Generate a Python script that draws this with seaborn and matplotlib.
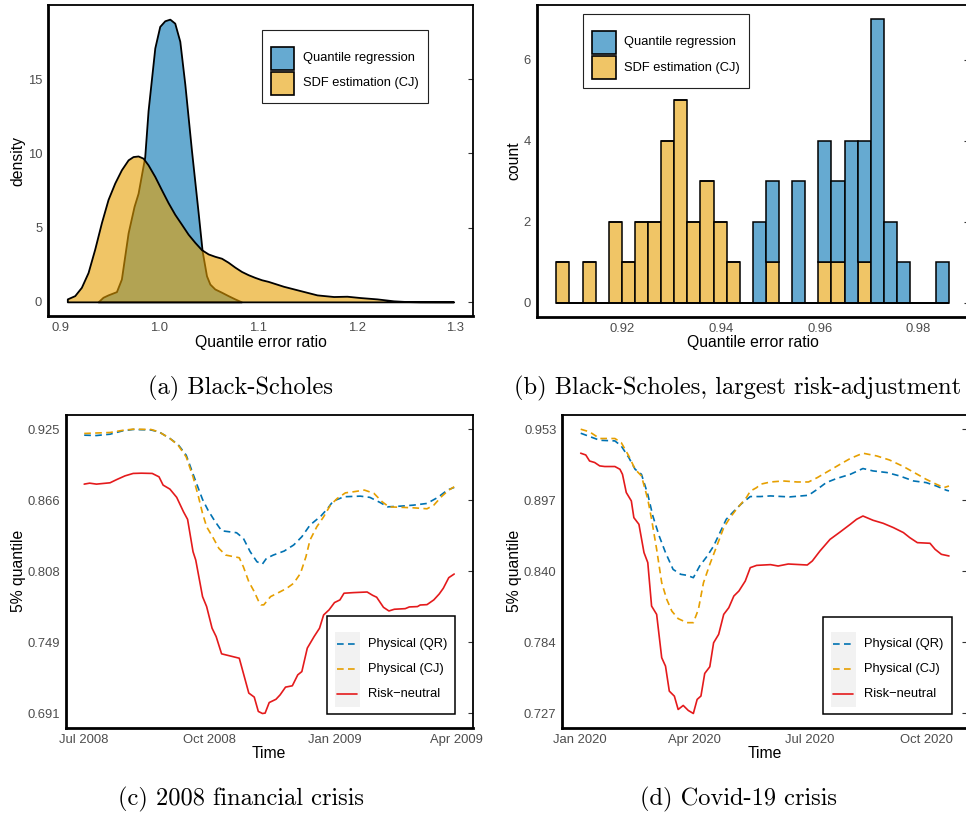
import numpy as np
import pandas as pd
import matplotlib
matplotlib.use("Agg")
import matplotlib.pyplot as plt
import matplotlib.dates as mdates
from matplotlib.patches import Rectangle
from matplotlib.lines import Line2D
import seaborn as sns

# ------------------------------------------------------------------ data
QR_NAME = "Quantile regression"
CJ_NAME = "SDF estimation (CJ)"

# (a) density curves
qr_dens_x = [0.9385, 0.9435, 0.9486, 0.9571, 0.9621, 0.9689, 0.9749, 0.9790, 0.9857, 0.9891,
             0.9959, 1.0009, 1.0060, 1.0111, 1.0161, 1.0212, 1.0263, 1.0330, 1.0398, 1.0438,
             1.0482, 1.0516, 1.0566, 1.0634, 1.0701, 1.0769, 1.0836]
qr_dens_y = [0.0, 0.31, 0.47, 0.69, 1.54, 4.65, 6.43, 7.32, 9.77, 12.89,
             17.11, 18.56, 18.94, 19.05, 18.78, 17.56, 14.66, 10.21, 5.99, 3.43,
             1.76, 1.20, 0.87, 0.65, 0.42, 0.20, 0.0]
cj_dens_x = [0.9074, 0.9149, 0.9216, 0.9284, 0.9351, 0.9419, 0.9486, 0.9554, 0.9621, 0.9689,
             0.9739, 0.9790, 0.9841, 0.9891, 0.9959, 1.0026, 1.0094, 1.0161, 1.0229, 1.0296,
             1.0364, 1.0431, 1.0499, 1.0566, 1.0634, 1.0701, 1.0769, 1.0836, 1.0904, 1.0971,
             1.1039, 1.1106, 1.1261, 1.1430, 1.1600, 1.1768, 1.1903, 1.2038, 1.2207, 1.2375,
             1.2511, 1.2646, 1.2848, 1.2983]
cj_dens_y = [0.20, 0.42, 0.98, 1.98, 3.55, 5.34, 6.90, 8.01, 8.90, 9.57,
             9.79, 9.83, 9.68, 9.23, 8.45, 7.56, 6.68, 5.90, 5.23, 4.56,
             4.01, 3.52, 3.23, 3.07, 2.94, 2.67, 2.34, 2.05, 1.83, 1.65,
             1.49, 1.38, 1.05, 0.76, 0.47, 0.36, 0.38, 0.29, 0.20, 0.07,
             0.02, 0.005, 0.002, 0.0]

# (b) histogram: 30 bins between these edges, counts per bin
hist_lo, hist_hi, hist_bins = 0.90662, 0.98622, 30
qr_counts = [0, 0, 0, 0, 0, 0, 0, 0, 0, 0, 0, 0, 0, 0, 0,
             2, 2, 0, 3, 0, 3, 2, 4, 3, 7, 2, 1, 0, 0, 1]
cj_counts = [1, 0, 1, 0, 2, 1, 2, 2, 4, 5, 2, 3, 2, 1, 0,
             0, 1, 0, 0, 0, 1, 1, 0, 1, 0, 0, 0, 0, 0, 0]

# (c) 2008 financial crisis (days after 2008-07-01)
start_08 = "2008-07-01"
rn08_days = [0, 4, 9, 19, 24, 30, 36, 42, 50, 55, 58, 63, 68, 73, 76, 80, 82, 87, 90, 94,
             97, 101, 114, 117, 121, 125, 128, 131, 133, 136, 141, 144, 148, 153, 157, 160, 164, 169, 173, 176,
             180, 184, 188, 191, 198, 208, 212, 215, 220, 224, 228, 236, 239, 245, 247, 252, 257, 261, 264, 268, 272]
rn08 = [0.8795, 0.8803, 0.8795, 0.8806, 0.8833, 0.8863, 0.8883, 0.8885, 0.8883, 0.8855,
        0.8787, 0.8754, 0.8686, 0.8567, 0.8505, 0.8239, 0.8170, 0.7869, 0.7787, 0.7609,
        0.7540, 0.7398, 0.7362, 0.7239, 0.7075, 0.7042, 0.6924, 0.6907, 0.6910, 0.6997,
        0.7024, 0.7060, 0.7124, 0.7135, 0.7225, 0.7252, 0.7445, 0.7540, 0.7609, 0.7718,
        0.7760, 0.7820, 0.7842, 0.7897, 0.7902, 0.7907, 0.7880, 0.7864, 0.7781, 0.7751,
        0.7765, 0.7770, 0.7784, 0.7787, 0.7800, 0.7803, 0.7842, 0.7891, 0.7938, 0.8025, 0.8055]
qr08_days = [0, 9, 19, 28, 36, 49, 55, 63, 69, 75, 79, 83, 87, 91, 96, 101, 112, 117, 122, 127,
             131, 134, 139, 147, 154, 160, 166, 174, 179, 183, 191, 203, 210, 218, 223, 233, 242, 252, 260, 267, 272]
qr08 = [0.9198, 0.9195, 0.9206, 0.9233, 0.9245, 0.9241, 0.9225, 0.9171, 0.9121, 0.9033,
        0.8910, 0.8787, 0.8669, 0.8581, 0.8491, 0.8411, 0.8395, 0.8349, 0.8239, 0.8156,
        0.8137, 0.8184, 0.8211, 0.8244, 0.8294, 0.8362, 0.8458, 0.8532, 0.8595, 0.8655,
        0.8691, 0.8696, 0.8686, 0.8641, 0.8608, 0.8614, 0.8622, 0.8636, 0.8686, 0.8746, 0.8768]
cj08_days = [0, 19, 29, 36, 49, 55, 63, 69, 75, 80, 84, 87, 90, 95, 99, 104, 114, 117, 121, 125,
             128, 130, 132, 137, 142, 149, 154, 159, 163, 166, 171, 176, 181, 186, 192, 198, 206, 213, 219, 224,
             233, 242, 252, 257, 263, 268, 272]
cj08 = [0.9212, 0.9220, 0.9239, 0.9247, 0.9245, 0.9225, 0.9171, 0.9116, 0.9019, 0.8855,
        0.8691, 0.8554, 0.8444, 0.8349, 0.8266, 0.8211, 0.8189, 0.8115, 0.7992, 0.7910,
        0.7836, 0.7801, 0.7801, 0.7869, 0.7897, 0.7938, 0.7979, 0.8061, 0.8197, 0.8335,
        0.8444, 0.8526, 0.8622, 0.8677, 0.8723, 0.8732, 0.8746, 0.8719, 0.8650, 0.8608,
        0.8604, 0.8600, 0.8592, 0.8622, 0.8696, 0.8746, 0.8773]

# (d) Covid-19 crisis (days after 2020-01-01)
start_20 = "2020-01-01"
rn20_days = [1, 5, 8, 12, 16, 20, 28, 32, 34, 37, 41, 43, 47, 51, 54, 57, 61, 65, 68, 71,
             75, 78, 82, 86, 90, 93, 96, 99, 103, 106, 110, 114, 118, 122, 126, 131, 135, 140, 151, 157,
             165, 180, 184, 190, 198, 206, 214, 219, 224, 232, 240, 248, 256, 261, 267, 277, 281, 286, 292]
rn20 = [0.9342, 0.9328, 0.9280, 0.9268, 0.9241, 0.9236, 0.9236, 0.9214, 0.9174, 0.9029,
        0.8962, 0.8829, 0.8776, 0.8551, 0.8471, 0.8125, 0.8059, 0.7714, 0.7647, 0.7448,
        0.7408, 0.7302, 0.7334, 0.7294, 0.7270, 0.7382, 0.7409, 0.7589, 0.7642, 0.7833,
        0.7900, 0.8059, 0.8112, 0.8205, 0.8245, 0.8324, 0.8431, 0.8449, 0.8455, 0.8444,
        0.8460, 0.8452, 0.8484, 0.8563, 0.8656, 0.8715, 0.8776, 0.8816, 0.8842, 0.8808,
        0.8784, 0.8750, 0.8710, 0.8670, 0.8630, 0.8625, 0.8577, 0.8537, 0.8524]
qr20_days = [1, 8, 16, 28, 33, 39, 44, 49, 54, 58, 63, 68, 74, 80, 85, 90, 95, 101, 106, 111,
             116, 122, 128, 135, 143, 151, 166, 181, 188, 195, 203, 214, 224, 232, 243, 253, 264, 274, 282, 290, 292]
qr20 = [0.9501, 0.9475, 0.9445, 0.9440, 0.9400, 0.9307, 0.9214, 0.9174, 0.9015, 0.8842,
        0.8683, 0.8551, 0.8417, 0.8378, 0.8370, 0.8351, 0.8444, 0.8524, 0.8603, 0.8710,
        0.8816, 0.8880, 0.8940, 0.8997, 0.8997, 0.9002, 0.8994, 0.9007, 0.9055, 0.9108,
        0.9140, 0.9174, 0.9220, 0.9201, 0.9188, 0.9161, 0.9121, 0.9108, 0.9081, 0.9047, 0.9042]
cj20_days = [1, 8, 16, 28, 33, 39, 44, 49, 54, 57, 61, 65, 69, 73, 78, 85, 90, 94, 98, 103,
             109, 114, 119, 124, 132, 135, 140, 143, 151, 161, 172, 181, 188, 197, 206, 214, 224, 235, 245, 256,
             267, 274, 282, 288, 292]
cj20 = [0.9533, 0.9512, 0.9459, 0.9459, 0.9427, 0.9320, 0.9214, 0.9161, 0.8975, 0.8816,
        0.8577, 0.8311, 0.8178, 0.8085, 0.8025, 0.7993, 0.7993, 0.8099, 0.8311, 0.8457,
        0.8616, 0.8749, 0.8829, 0.8895, 0.8990, 0.9040, 0.9068, 0.9095, 0.9113, 0.9121,
        0.9113, 0.9113, 0.9148, 0.9201, 0.9254, 0.9300, 0.9342, 0.9320, 0.9288, 0.9236,
        0.9174, 0.9134, 0.9095, 0.9068, 0.9081]

series_labels = ["Physical (QR)", "Physical (CJ)", "Risk\u2212neutral"]
captions = ["(a) Black-Scholes", "(b) Black-Scholes, largest risk-adjustment",
            "(c) 2008 financial crisis", "(d) Covid-19 crisis"]

# ------------------------------------------------------------------ style
sns.set_style("white")
plt.rcParams["font.family"] = ["Liberation Sans", "DejaVu Sans"]

W, H = 966, 815
fig = plt.figure(figsize=(W / 100, H / 100), dpi=100)

QR_FILL = "#66AAD1"
CJ_FILL = "#F0C566"
QR_LINE = "#0072B2"
CJ_LINE = "#E69F00"
RN_LINE = "#E41A1C"
TICK_C = "#333333"
LAB_C = "#4D4D4D"
DASH = (0, (4, 2.6))


def px_axes(box):
    l, t, r, b = box
    return fig.add_axes([l / W, 1 - b / H, (r - l) / W, (b - t) / H])


def style(ax, yticks, ylabels):
    for s in ("left", "bottom"):
        ax.spines[s].set_linewidth(2.0)
    for s in ("top", "right"):
        ax.spines[s].set_linewidth(1.3)
    for sp in ax.spines.values():
        sp.set_visible(True)
        sp.set_color("black")
    ax.tick_params(axis="both", which="major", direction="out", length=3.2, width=0.8,
                   color=TICK_C, labelsize=9.4, labelcolor=LAB_C, pad=1.0,
                   top=False, right=False)
    ax.set_yticks(yticks)
    ax.set_yticklabels(ylabels)
    sec = ax.secondary_yaxis("right")
    sec.set_yticks(yticks)
    sec.tick_params(direction="in", length=3.6, width=0.8, color=TICK_C, labelright=False)
    sec.spines["right"].set_visible(False)
    ax.grid(False)


def labels(ax, box, xlabel, ylabel, xlab_py, ylab_px):
    l, t, r, b = box
    ax.set_xlabel(xlabel, fontsize=11.3, color="black", va="center", ha="center")
    ax.xaxis.set_label_coords(0.5, (b - xlab_py) / (b - t))
    ax.set_ylabel(ylabel, fontsize=11.3, color="black", va="center", ha="center")
    ax.yaxis.set_label_coords((ylab_px - l) / (r - l), 0.5)


def fig_rect(l, t, r, b, **kw):
    fig.add_artist(Rectangle((l / W, 1 - b / H), (r - l) / W, (b - t) / H,
                             transform=fig.transFigure, **kw))


def fig_line(x0, x1, y, **kw):
    fig.add_artist(Line2D([x0 / W, x1 / W], [1 - y / H, 1 - y / H],
                          transform=fig.transFigure, **kw))


def fig_label(x, y, s, size=9.3):
    fig.text(x / W, 1 - y / H, s, ha="left", va="center", fontsize=size,
             color="black", zorder=12)


def padded(lo, hi, frac=0.05):
    p = (hi - lo) * frac
    return lo - p, hi + p


# ------------------------------------------------------------------ (a)
box_a = (48, 5, 473, 316)
ax_a = px_axes(box_a)
ax_a.fill_between(qr_dens_x, qr_dens_y, 0, facecolor=(0, 114 / 255, 178 / 255, 0.6),
                  edgecolor="black", linewidth=1.3, zorder=2)
ax_a.fill_between(cj_dens_x, cj_dens_y, 0, facecolor=(230 / 255, 159 / 255, 0, 0.6),
                  edgecolor="black", linewidth=1.3, zorder=3)
ax_a.set_xlim(*padded(min(cj_dens_x + qr_dens_x), max(cj_dens_x + qr_dens_x)))
ax_a.set_ylim(*padded(0, max(qr_dens_y + cj_dens_y)))
style(ax_a, [0, 5, 10, 15], ["0", "5", "10", "15"])
ax_a.set_xticks([0.9, 1.0, 1.1, 1.2, 1.3])
ax_a.set_xticklabels(["0.9", "1.0", "1.1", "1.2", "1.3"])
labels(ax_a, box_a, "Quantile error ratio", "density", 342.3, 18.3)

fig_rect(262.3, 30, 427.7, 103.3, facecolor="white", edgecolor="#222222", linewidth=0.8, zorder=10)
fig_rect(271, 46.7, 294.3, 70, facecolor=QR_FILL, edgecolor="black", linewidth=1.2, zorder=11)
fig_rect(271, 71.7, 294.3, 95, facecolor=CJ_FILL, edgecolor="black", linewidth=1.2, zorder=11)
fig_label(302.7, 58.3, QR_NAME)
fig_label(302.7, 83.3, CJ_NAME)

# ------------------------------------------------------------------ (b)
box_b = (536.7, 5, 969, 316.7)
ax_b = px_axes(box_b)
bin_w = (hist_hi - hist_lo) / hist_bins
centers = hist_lo + (np.arange(hist_bins) + 0.5) * bin_w
df_b = pd.DataFrame({
    "ratio": np.concatenate([centers, centers]),
    "count": qr_counts + cj_counts,
    "method": [QR_NAME] * hist_bins + [CJ_NAME] * hist_bins,
})
sns.histplot(data=df_b, x="ratio", weights="count", hue="method",
             hue_order=[QR_NAME, CJ_NAME], multiple="stack", bins=hist_bins,
             binrange=(hist_lo, hist_hi), palette={QR_NAME: QR_FILL, CJ_NAME: CJ_FILL},
             alpha=1, edgecolor="black", linewidth=1.1, legend=False, ax=ax_b)
# baseline drawn by the empty (zero-height) bins in the original
ax_b.plot([hist_lo, hist_hi], [0, 0], color="black", linewidth=1.3, zorder=5,
          solid_capstyle="butt")
tot = np.array(qr_counts) + np.array(cj_counts)
ax_b.set_xlim(*padded(hist_lo, hist_hi))
ax_b.set_ylim(*padded(0, tot.max()))
style(ax_b, [0, 2, 4, 6], ["0", "2", "4", "6"])
ax_b.set_xticks([0.92, 0.94, 0.96, 0.98])
ax_b.set_xticklabels(["0.92", "0.94", "0.96", "0.98"])
labels(ax_b, box_b, "Quantile error ratio", "count", 342.3, 514.3)

fig_rect(583.3, 14.3, 749.3, 88, facecolor="white", edgecolor="#222222", linewidth=0.8, zorder=10)
fig_rect(592.3, 31, 615.7, 53.7, facecolor=QR_FILL, edgecolor="black", linewidth=1.2, zorder=11)
fig_rect(592.3, 56, 615.7, 79, facecolor=CJ_FILL, edgecolor="black", linewidth=1.2, zorder=11)
fig_label(624.3, 42.3, QR_NAME)
fig_label(624.3, 67.5, CJ_NAME)


# ------------------------------------------------------------------ (c), (d)
def ts_panel(box, start, qr_d, qr_v, cj_d, cj_v, rn_d, rn_v, legend_box, key_box, line_x, text_x, leg_y, ylab_px):
    ax = px_axes(box)
    t0 = pd.Timestamp(start)
    for d, v, col, dashed in ((qr_d, qr_v, QR_LINE, True), (cj_d, cj_v, CJ_LINE, True),
                              (rn_d, rn_v, RN_LINE, False)):
        dates = t0 + pd.to_timedelta(d, unit="D")
        sns.lineplot(x=dates, y=v, ax=ax, color=col, linewidth=1.2, estimator=None,
                     legend=False)
        if dashed:
            ax.lines[-1].set_linestyle(DASH)
    all_d = qr_d + cj_d + rn_d
    all_v = qr_v + cj_v + rn_v
    dlo, dhi = padded(min(all_d), max(all_d))
    ax.set_xlim(mdates.date2num(t0 + pd.Timedelta(days=dlo)),
                mdates.date2num(t0 + pd.Timedelta(days=dhi)))
    vmin, vmax = min(all_v), max(all_v)
    ax.set_ylim(*padded(vmin, vmax))
    yt = np.linspace(vmin, vmax, 5)
    style(ax, yt, ["%.3f" % y for y in yt])
    ax.xaxis.set_major_locator(mdates.MonthLocator(bymonth=[1, 4, 7, 10]))
    ax.xaxis.set_major_formatter(mdates.DateFormatter("%b %Y"))
    labels(ax, box, "Time", "5% quantile", 753.3, ylab_px)

    l, t, r, b = legend_box
    fig_rect(l, t, r, b, facecolor="white", edgecolor="black", linewidth=1.1, zorder=10)
    kl, kt, kr, kb = key_box
    fig_rect(kl, kt, kr, kb, facecolor="#F2F2F2", edgecolor="none", zorder=10.5)
    for y, col, ls, lab in zip(leg_y, (QR_LINE, CJ_LINE, RN_LINE), (DASH, DASH, "-"), series_labels):
        fig_line(line_x[0], line_x[1], y, color=col, linewidth=1.2, linestyle=ls, zorder=11)
        fig_label(text_x, y, lab)
    return ax


box_c = (65.7, 415, 472.7, 727.7)
ts_panel(box_c, start_08, qr08_days, qr08, cj08_days, cj08, rn08_days, rn08,
         (326.7, 616, 455.3, 714.3), (335, 631.7, 360, 706.7), (337.3, 357.3), 367.7,
         (644.3, 669.3, 694.3), 18.3)

box_d = (562.3, 415, 967.4, 727.7)
ts_panel(box_d, start_20, qr20_days, qr20, cj20_days, cj20, rn20_days, rn20,
         (823.3, 616.7, 951.7, 714.3), (831, 632, 856, 707), (833.3, 853.3), 864.3,
         (644.3, 669.3, 694.3), 514.3)

# ------------------------------------------------------------------ captions
for (cx, cy), txt in zip([(241, 388), (738, 388), (241, 799), (739, 799)], captions):
    fig.text(cx / W, 1 - cy / H, txt, fontfamily="cmr10", fontsize=17.6,
             ha="center", va="center", color="black")

fig.savefig("out.png", dpi=100)
